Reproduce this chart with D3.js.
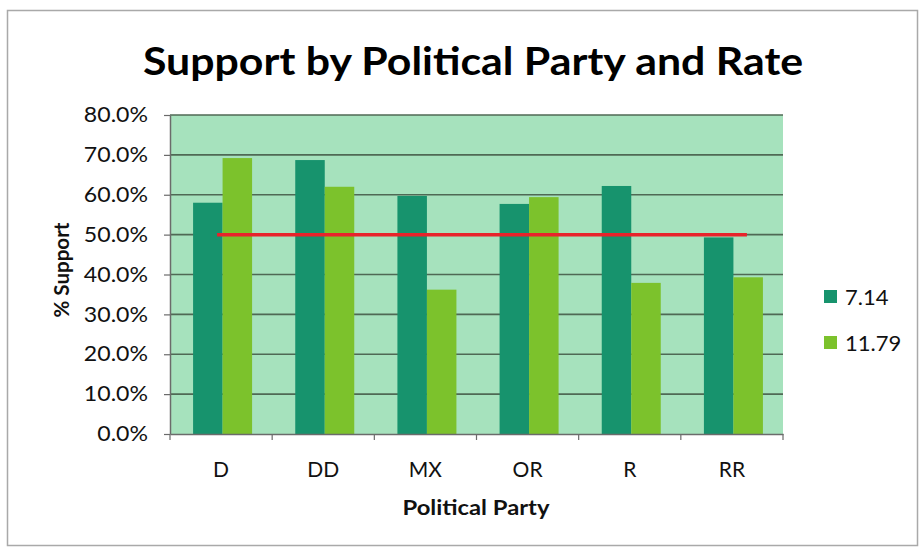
<!DOCTYPE html>
<html>
<head>
<meta charset="utf-8">
<script src="https://cdn.jsdelivr.net/npm/d3@7"></script>
<style>
  html, body { margin: 0; padding: 0; background: #ffffff; }
  svg { display: block; }
</style>
</head>
<body>
<svg id="chart" width="921" height="551"></svg>
<script>
// Categories and series
const parties = ["D", "DD", "MX", "OR", "R", "RR"];
const seriesNames = ["7.14", "11.79"];
const rate714 = [0.58, 0.687, 0.597, 0.577, 0.622, 0.493];
const rate1179 = [0.692, 0.620, 0.362, 0.594, 0.379, 0.393];
const threshold = [0.5, 0.5];
const yTicks = [0, 0.1, 0.2, 0.3, 0.4, 0.5, 0.6, 0.7, 0.8];

const colors = { "7.14": "#17936d", "11.79": "#7cc22c" };
const font = "Lato, 'Open Sans', 'DejaVu Sans', sans-serif";

const svg = d3.select("#chart");
const margin = { left: 170, right: 138, top: 115, bottom: 117 };
const W = 921, H = 551;
const plotW = W - margin.left - margin.right;
const plotH = H - margin.top - margin.bottom;

// Widen text glyphs slightly by a fixed ratio
function widen(sel, ratio) {
  sel.each(function () {
    const len = this.getComputedTextLength();
    d3.select(this).attr("textLength", len * ratio).attr("lengthAdjust", "spacingAndGlyphs");
  });
}

// Outer chart frame
svg.append("rect")
  .attr("x", 7.5).attr("y", 10.5)
  .attr("width", 910).attr("height", 535)
  .attr("fill", "#ffffff")
  .attr("stroke", "#a9a9a9").attr("stroke-width", 1.5);

const g = svg.append("g").attr("transform", `translate(${margin.left},${margin.top})`);

const x = d3.scaleBand().domain(parties).range([0, plotW]).paddingInner(0).paddingOuter(0);
const x1 = d3.scaleBand().domain(seriesNames).range([0, 59]);
const y = d3.scaleLinear().domain([0, 0.8]).range([plotH, 0]);

// Plot background
g.append("rect")
  .attr("x", 0).attr("y", 0)
  .attr("width", plotW).attr("height", plotH)
  .attr("fill", "#a6e2bd");

// Gridlines
g.append("g")
  .selectAll("line")
  .data(yTicks.slice(1))
  .join("line")
  .attr("x1", 0).attr("x2", plotW)
  .attr("y1", d => y(d)).attr("y2", d => y(d))
  .attr("stroke", "#4f6955").attr("stroke-width", 1.7);

// Bars
const rows = parties.map((p, i) => ({ party: p, values: [
  { key: "7.14", value: rate714[i] },
  { key: "11.79", value: rate1179[i] }
]}));

const groups = g.append("g").selectAll("g")
  .data(rows)
  .join("g")
  .attr("transform", d => `translate(${x(d.party) + x.bandwidth() / 2 - 29.5 + 1.5},0)`);

groups.selectAll("rect")
  .data(d => d.values)
  .join("rect")
  .attr("x", d => x1(d.key))
  .attr("width", x1.bandwidth())
  .attr("y", d => y(d.value))
  .attr("height", d => plotH - y(d.value))
  .attr("fill", d => colors[d.key]);

// Reference line at 50%
const lineX = [x("D") + x.bandwidth() / 2 - 4, x("RR") + x.bandwidth() / 2 + 15];
g.append("path")
  .datum(threshold.map((v, i) => ({ px: lineX[i], v })))
  .attr("d", d3.line().x(d => d.px).y(d => y(d.v)))
  .attr("stroke", "#e8232b").attr("stroke-width", 3.5).attr("fill", "none");

// Y axis
const yAxis = g.append("g")
  .call(d3.axisLeft(y).tickValues(yTicks).tickFormat(d3.format(".1%")).tickSize(6).tickSizeOuter(0));
yAxis.select(".domain").attr("stroke", "#6b6b6b").attr("stroke-width", 1.5);
yAxis.selectAll(".tick line").attr("stroke", "#6b6b6b").attr("stroke-width", 1.2);
yAxis.selectAll(".tick text")
  .attr("x", -22)
  .attr("font-family", font).attr("font-size", 21).attr("fill", "#111")
  .call(widen, 1.1);

// X axis
const xAxis = g.append("g").attr("transform", `translate(0,${plotH})`)
  .call(d3.axisBottom(x).tickSize(0).tickSizeOuter(0));
xAxis.select(".domain").attr("stroke", "#6b6b6b").attr("stroke-width", 1.5);
xAxis.selectAll(".tick text")
  .attr("dy", 0).attr("y", 43)
  .attr("font-family", font).attr("font-size", 21).attr("fill", "#111");

// Category boundary ticks
const bounds = parties.map(p => x(p)).concat([plotW]);
xAxis.append("g").selectAll("line")
  .data(bounds)
  .join("line")
  .attr("x1", d => d).attr("x2", d => d)
  .attr("y1", 0).attr("y2", 6)
  .attr("stroke", "#6b6b6b").attr("stroke-width", 1.2);

// Title
svg.append("text")
  .attr("x", 473).attr("y", 75)
  .attr("text-anchor", "middle")
  .attr("font-family", font).attr("font-weight", "bold")
  .attr("font-size", 39).attr("fill", "#000")
  .attr("textLength", 660).attr("lengthAdjust", "spacingAndGlyphs")
  .text("Support by Political Party and Rate");

// Axis titles
svg.append("text")
  .attr("transform", "translate(69,270) rotate(-90)")
  .attr("text-anchor", "middle")
  .attr("font-family", font).attr("font-weight", "bold")
  .attr("font-size", 21).attr("fill", "#111")
  .attr("textLength", 95).attr("lengthAdjust", "spacingAndGlyphs")
  .text("% Support");

svg.append("text")
  .attr("x", 476).attr("y", 515)
  .attr("text-anchor", "middle")
  .attr("font-family", font).attr("font-weight", "bold")
  .attr("font-size", 21).attr("fill", "#111")
  .attr("textLength", 147).attr("lengthAdjust", "spacingAndGlyphs")
  .text("Political Party");

// Legend
const legend = svg.append("g").attr("transform", "translate(824,290)");
const li = legend.selectAll("g").data(seriesNames).join("g")
  .attr("transform", (d, i) => `translate(0,${i * 46})`);
li.append("rect").attr("width", 13).attr("height", 13).attr("fill", d => colors[d]);
li.append("text")
  .attr("x", 21).attr("y", 15)
  .attr("font-family", font).attr("font-size", 22).attr("fill", "#111")
  .text(d => d);
</script>
</body>
</html>
